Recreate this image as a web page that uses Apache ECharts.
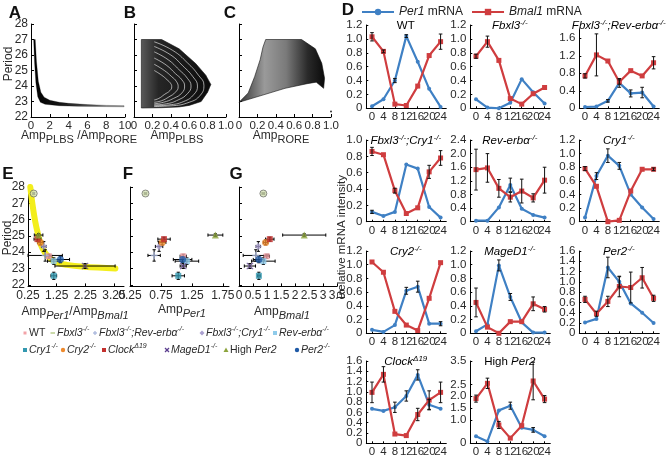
<!DOCTYPE html>
<html><head><meta charset="utf-8">
<script src="https://cdn.jsdelivr.net/npm/echarts@6/dist/echarts.min.js"></script>
<style>html,body{margin:0;padding:0;background:#fff}#c{width:669px;height:461px}</style>
</head><body><div id="c"></div>
<script>
// ================= DATA =================
// Panel A band (upper and lower edges of the simulated cloud)
const aUpper = [[0.45,27.0],[0.58,25.6],[0.78,24.3],[1.05,23.6],[1.4,23.28],[2,23.08],[3,22.95],[4,22.88],[6,22.8],[8,22.75],[9.9,22.73]];
const aLower = [[9.9,22.66],[8,22.67],[5,22.69],[3,22.73],[1.5,22.82],[1.0,22.95],[0.72,23.3],[0.52,24.2],[0.38,25.5],[0.28,27.0]];
// Panel B cloud outline and visible arc gaps
const bOutline = [[0.08,27.0],[0.3,27.0],[0.49,26.4],[0.67,25.45],[0.78,24.7],[0.835,24.1],[0.8,23.6],[0.73,23.0],[0.6,22.75],[0.49,22.65],[0.3,22.6],[0.08,22.58]];
const bArc1 = [[0.22,26.85],[0.42,26.3],[0.58,25.5],[0.7,24.7],[0.76,24.05],[0.72,23.4],[0.6,22.95],[0.4,22.72],[0.22,22.68]];
const bArc2 = [[0.22,26.55],[0.4,26.0],[0.53,25.3],[0.64,24.6],[0.69,24.0],[0.65,23.45],[0.54,23.0],[0.38,22.78],[0.22,22.72]];
const bArc3 = [[0.22,26.2],[0.37,25.7],[0.49,25.05],[0.58,24.5],[0.62,24.0],[0.58,23.5],[0.48,23.1],[0.35,22.85],[0.22,22.78]];
const bArc4 = [[0.22,25.8],[0.35,25.35],[0.45,24.8],[0.52,24.4],[0.55,24.0],[0.52,23.55],[0.43,23.2],[0.32,22.95],[0.22,22.85]];
const bArc5 = [[0.22,25.4],[0.33,25.0],[0.41,24.6],[0.46,24.3],[0.48,23.95],[0.45,23.6],[0.38,23.3],[0.3,23.05],[0.22,22.95]];
const bArc6 = [[0.22,25.0],[0.3,24.7],[0.36,24.4],[0.4,24.15],[0.41,23.95],[0.39,23.7],[0.33,23.45],[0.27,23.2],[0.22,23.1]];
// Panel C cloud outline and lone point
const cOutline = [[0.0,22.95],[0.1,23.55],[0.17,24.6],[0.23,25.7],[0.26,26.5],[0.29,27.0],[0.68,27.0],[0.83,26.4],[0.9,25.46],[0.93,24.5],[0.92,23.85],[0.84,24.25],[0.74,24.15],[0.5,23.85],[0.25,23.4],[0.0,22.95]];
const cDot = [[1.0,22.35]];
// Panel E fitted curve
const fitE = [[0.33,28.0],[0.4,27.0],[0.5,25.9],[0.6,25.1],[0.7,24.45],[0.85,23.95],[1.0,23.65],[1.2,23.4],[1.6,23.22],[2.2,23.1],[3.3,23.0]];

// Panels E-G: genotypes
const genotypes = ['WT','Fbxl3','Fbxl3;Rev-erbα','Fbxl3;Cry1','Rev-erbα','Cry1','Cry2','ClockΔ19','MageD1','High Per2','Per2'];
const period     = [23.75,27.6,23.8,24.35,23.45,22.55,24.6,24.8,23.15,25.05,23.55];
const periodErr  = [0.12,0.05,0.35,0.3,0.2,0.22,0.15,0.12,0.15,0.08,0.2];
const ampRatio   = [0.98,0.45,0.85,0.8,1.15,1.15,0.68,0.58,2.24,0.62,1.38];
const ampRatioErr= [0.1,0.03,0.6,0.08,0.22,0.1,0.1,0.12,1.05,0.15,0.32];
const ampPer1    = [1.11,0.5,0.64,0.72,1.17,1.03,0.77,0.8,1.11,1.63,1.1];
const ampPer1Err = [0.05,0.02,0.1,0.06,0.19,0.1,0.06,0.1,0.05,0.12,0.15];
const ampBmal1   = [0.99,0.87,0.6,0.69,0.87,0.71,0.95,1.1,0.39,2.33,0.71];
const ampBmal1Err= [0.1,0.05,0.45,0.08,0.42,0.05,0.08,0.15,0.2,0.77,0.2];

// Panel D: time courses (hours are the category axis)
const hours = ['0','4','8','12','16','20','24'];
const per1_WT = [0.03,0.13,0.40,1.04,0.67,0.28,0.02];
const per1Err_WT = [0,0,0.03,0.02,0,0,0];
const bmal1_WT = [1.03,0.82,0.06,0.04,0.32,0.76,0.96];
const bmal1Err_WT = [0.06,0.02,0,0,0,0,0.11];
const per1_Fbxl3 = [0.13,0.01,0.0,0.08,0.42,0.23,0.07];
const per1Err_Fbxl3 = [0,0,0,0,0,0,0];
const bmal1_Fbxl3 = [0.75,0.96,0.69,0.14,0.06,0.21,0.30];
const bmal1Err_Fbxl3 = [0.03,0.08,0,0,0,0,0];
const per1_Fbxl3Rev = [0.03,0.04,0.17,0.58,0.34,0.36,0.04];
const per1Err_Fbxl3Rev = [0,0,0.03,0.1,0.08,0.12,0];
const bmal1_Fbxl3Rev = [0.74,1.22,1.08,0.60,0.86,0.74,1.04];
const bmal1Err_Fbxl3Rev = [0.05,0.48,0,0.05,0,0,0.14];
const per1_Fbxl3Cry1 = [0.12,0.07,0.12,0.70,0.65,0.18,0.05];
const per1Err_Fbxl3Cry1 = [0.02,0,0,0,0,0,0];
const bmal1_Fbxl3Cry1 = [0.86,0.82,0.38,0.10,0.17,0.61,0.78];
const bmal1Err_Fbxl3Cry1 = [0.05,0,0.03,0,0,0.08,0.09];
const per1_Rev = [0.03,0.03,0.42,1.08,0.38,0.20,0.12];
const per1Err_Rev = [0,0,0,0.2,0,0,0];
const bmal1_Rev = [1.53,1.58,0.98,0.72,0.90,0.70,1.22];
const bmal1Err_Rev = [0.6,0.42,0.26,0.14,0.35,0.12,0.38];
const per1_Cry1 = [0.06,0.67,0.97,0.82,0.40,0.21,0.04];
const per1Err_Cry1 = [0,0.05,0.1,0.05,0,0,0];
const bmal1_Cry1 = [0.78,0.52,0.0,0.02,0.45,0.77,0.77];
const bmal1Err_Cry1 = [0.03,0,0,0,0,0,0.02];
const per1_Cry2 = [0.05,0.02,0.12,0.62,0.68,0.14,0.14];
const per1Err_Cry2 = [0,0,0,0.05,0.08,0,0.03];
const bmal1_Cry2 = [1.04,0.89,0.32,0.12,0.04,0.51,1.03];
const bmal1Err_Cry2 = [0,0,0,0,0,0,0];
const per1_MageD1 = [0.03,0.13,0.99,0.53,0.16,0.01,0.01];
const per1Err_MageD1 = [0,0,0.08,0.05,0,0,0];
const bmal1_MageD1 = [0.45,0.09,0.0,0.17,0.17,0.43,0.35];
const bmal1Err_MageD1 = [0.21,0,0,0,0,0.1,0.04];
const per1_Per2 = [0.21,0.28,1.28,1.0,0.58,0.40,0.20];
const per1Err_Per2 = [0,0,0.2,0.1,0,0,0];
const bmal1_Per2 = [0.66,0.38,0.62,0.91,0.89,1.08,0.68];
const bmal1Err_Per2 = [0.06,0.05,0.1,0.2,0.3,0.2,0.06];
const per1_Clock = [0.67,0.63,0.70,0.92,1.33,0.75,0.67];
const per1Err_Clock = [0,0,0.1,0.1,0.1,0.1,0];
const bmal1_Clock = [0.99,1.34,0.18,0.15,0.56,0.84,0.99];
const bmal1Err_Clock = [0.2,0.15,0,0,0.12,0.18,0.2];
const per1_HighPer2 = [0.30,0.08,1.40,1.60,0.66,0.57,0.30];
const per1Err_HighPer2 = [0,0,0,0.15,0,0.1,0];
const bmal1_HighPer2 = [1.90,2.55,0.78,0.22,0.75,2.65,1.88];
const bmal1Err_HighPer2 = [0.15,0.22,0.15,0,0,0.8,0.15];

// Tick label sets
const ticksA_x = [0,2,4,6,8,10];
const ticksPeriod = [22,23,24,25,26,27,28];
const ticksBC_x = [0,0.2,0.4,0.6,0.8,1.0];
const ticksE_x = [0.25,1.25,2.25,3.25];
const ticksF_x = [0.25,0.75,1.25,1.75];
const ticksG_x = [0,0.5,1,1.5,2,2.5,3,3.5];
const ticksD12 = [0,0.2,0.4,0.6,0.8,1.0,1.2];
const ticksD10 = [0,0.2,0.4,0.6,0.8,1.0];
const ticksD16a = [0,0.4,0.8,1.2,1.6];
const ticksD24 = [0,0.4,0.8,1.2,1.6,2.0,2.4];
const ticksD16even = [0,0.4,0.8,1.2,1.6];
const ticksD16odd = [0.2,0.6,1.0,1.4];
const ticksD35 = [0,0.5,1.0,1.5,2.0,2.5,3.0,3.5];

// ================= STYLE =================
const FONT = 'Liberation Sans, Arial, Helvetica, sans-serif';
const TXT = '#2a2a2a';
const BLUE = '#3f80c4';
const RED = '#cf3d3f';
const gColors = ['#f2a3a8','#d6e2b6','#a9b6dc','#aaa0d0','#8fcbea','#3398b0','#ee8a2e','#c3302d','#5b3f8f','#8ca43c','#1f5aa6'];
const PLUS = 'path://M4,0H6V4H10V6H6V10H4V6H0V4H4Z';
const CROSS = 'path://M1,0L5,4L9,0L10,1L6,5L10,9L9,10L5,6L1,10L0,9L4,5L0,1Z';
const gSymbols = ['rect','circle',PLUS,'diamond','rect','rect','circle','rect',CROSS,'triangle','circle'];

const grids = [], xAxes = [], yAxes = [], extraY = [], series = [], graphics = [];
function axis(o) {
  return {
    type: 'value', min: o.min, max: o.max,
    axisLine: {show: o.line !== false, onZero: false, lineStyle: {color: '#000', width: 1}},
    axisTick: {show: true, inside: true, length: o.tl || 3, customValues: o.ticks, lineStyle: {color: '#000', width: 1}},
    axisLabel: {show: o.labels !== false, customValues: o.ticks, formatter: o.fmt, color: TXT,
      fontSize: o.fs || 11, fontFamily: FONT, margin: o.margin || 3,
      showMinLabel: true, showMaxLabel: true, hideOverlap: false},
    splitLine: {show: false}
  };
}
function addGrid(g, xa, ya) {
  const idx = grids.length;
  grids.push(Object.assign({containLabel: false}, g));
  xAxes.push(Object.assign({gridIndex: idx}, xa.category ? xa.category : axis(xa)));
  yAxes.push(Object.assign({gridIndex: idx}, axis(ya)));
  return idx;
}
function polygonSeries(idx, pts, fill, stroke) {
  return {type: 'custom', xAxisIndex: idx, yAxisIndex: idx, silent: true, z: 2,
    data: [pts[0]],
    renderItem: (p, api) => ({type: 'polygon', shape: {points: pts.map(q => api.coord(q))},
      style: {fill: fill, stroke: stroke || '#111', lineWidth: 0.6}})};
}
const fmt1 = v => v === 0 ? '0' : v.toFixed(1);
const fmt2 = v => v.toFixed(2);

// ---------- Panel A ----------
const gA = addGrid({left: 31, top: 24, width: 94, height: 93},
  {min: 0, max: 10, ticks: ticksA_x, fs: 11.5},
  {min: 22, max: 28, ticks: ticksPeriod, fs: 12});
series.push(polygonSeries(gA, aUpper.concat(aLower),
  new echarts.graphic.LinearGradient(0, 0, 1, 0, [{offset: 0, color: '#000'}, {offset: 0.3, color: '#141414'}, {offset: 1, color: '#999'}]), 'rgba(0,0,0,0.45)'));

// ---------- Panel B ----------
const gB = addGrid({left: 134, top: 24, width: 92, height: 93},
  {min: 0, max: 1, ticks: ticksBC_x, fmt: fmt1, fs: 11.5},
  {min: 22, max: 28, ticks: ticksPeriod, labels: false});
series.push(polygonSeries(gB, bOutline,
  new echarts.graphic.LinearGradient(0, 0, 1, 0, [{offset: 0, color: '#5a5a5a'}, {offset: 0.25, color: '#262626'}, {offset: 1, color: '#0a0a0a'}])));
[bArc1, bArc2, bArc3, bArc4, bArc5, bArc6].forEach(arc => series.push({
  type: 'line', xAxisIndex: gB, yAxisIndex: gB, data: arc, smooth: 0.5, symbol: 'none', silent: true, z: 3,
  lineStyle: {color: 'rgba(255,255,255,0.6)', width: 1}}));

// ---------- Panel C ----------
const gC = addGrid({left: 239, top: 24, width: 92, height: 93},
  {min: 0, max: 1, ticks: ticksBC_x, fmt: fmt1, fs: 11.5},
  {min: 22, max: 28, ticks: ticksPeriod, labels: false});
series.push(polygonSeries(gC, cOutline,
  new echarts.graphic.LinearGradient(0, 0, 1, 0, [{offset: 0, color: '#333'}, {offset: 0.3, color: '#9a9a9a'}, {offset: 0.55, color: '#7a7a7a'}, {offset: 0.8, color: '#2a2a2a'}, {offset: 1, color: '#0a0a0a'}])));
series.push({type: 'scatter', xAxisIndex: gC, yAxisIndex: gC, data: cDot, symbolSize: 2, itemStyle: {color: '#000'}, silent: true});

// ---------- Panels E, F, G ----------
function crossSeries(idx, xs, xe) {
  return {type: 'custom', xAxisIndex: idx, yAxisIndex: idx, silent: true, z: 4,
    data: genotypes.map((g, i) => [xs[i], period[i], xe[i], periodErr[i]]),
    renderItem: (p, api) => {
      const x = api.value(0), y = api.value(1), ex = api.value(2), ey = api.value(3);
      const l = api.coord([x - ex, y]), r = api.coord([x + ex, y]), t = api.coord([x, y + ey]), b = api.coord([x, y - ey]);
      const c = 1.6, st = {stroke: '#000', lineWidth: 1};
      return {type: 'group', children: [
        {type: 'line', shape: {x1: l[0], y1: l[1], x2: r[0], y2: r[1]}, style: st},
        {type: 'line', shape: {x1: l[0], y1: l[1] - c, x2: l[0], y2: l[1] + c}, style: st},
        {type: 'line', shape: {x1: r[0], y1: r[1] - c, x2: r[0], y2: r[1] + c}, style: st},
        {type: 'line', shape: {x1: t[0], y1: t[1], x2: b[0], y2: b[1]}, style: st},
        {type: 'line', shape: {x1: t[0] - c, y1: t[1], x2: t[0] + c, y2: t[1]}, style: st},
        {type: 'line', shape: {x1: b[0] - c, y1: b[1], x2: b[0] + c, y2: b[1]}, style: st}
      ]};
    }};
}
function pointSeries(idx, xs) {
  return {type: 'scatter', xAxisIndex: idx, yAxisIndex: idx, silent: true, z: 5,
    data: genotypes.map((g, i) => ({value: [xs[i], period[i]], symbol: gSymbols[i],
      symbolSize: gSymbols[i] === 'rect' ? 6 : 7,
      itemStyle: {color: gColors[i], borderColor: i === 1 ? '#555' : gColors[i], borderWidth: i === 1 ? 0.8 : 0}}))};
}
const gE = addGrid({left: 28, top: 187, width: 96, height: 99.4},
  {min: 0.25, max: 3.6, ticks: ticksE_x, fmt: fmt2, fs: 12},
  {min: 21.9, max: 28, ticks: ticksPeriod, fs: 12});
series.push({type: 'line', xAxisIndex: gE, yAxisIndex: gE, data: fitE, smooth: 0.4, symbol: 'none', silent: true, z: 3,
  lineStyle: {color: '#f3ee1c', width: 6, cap: 'round'}});
series.push(crossSeries(gE, ampRatio, ampRatioErr));
series.push(pointSeries(gE, ampRatio));

const gF = addGrid({left: 130, top: 187, width: 99, height: 99.4},
  {min: 0.25, max: 1.85, ticks: ticksF_x, fmt: fmt2, fs: 12},
  {min: 21.9, max: 28, ticks: ticksPeriod, labels: false});
series.push(crossSeries(gF, ampPer1, ampPer1Err));
series.push(pointSeries(gF, ampPer1));

const gG = addGrid({left: 239, top: 187, width: 98, height: 99.4},
  {min: 0, max: 3.5, ticks: ticksG_x, fs: 12},
  {min: 21.9, max: 28, ticks: ticksPeriod, labels: false});
series.push(crossSeries(gG, ampBmal1, ampBmal1Err));
series.push(pointSeries(gG, ampBmal1));

// ---------- Panel D ----------
const colLeft = [366.3, 470.3, 579.3];
const rowBottom = [108.3, 221.7, 333.3, 443.3];
const rowTop = [25, 140, 251, 361];
const dPanels = [
  {t: '{n|WT}', p: per1_WT, pe: per1Err_WT, b: bmal1_WT, be: bmal1Err_WT, max: 1.2, ticks: ticksD12, r: 0, c: 0},
  {t: '{i|Fbxl3}{s|-/-}', p: per1_Fbxl3, pe: per1Err_Fbxl3, b: bmal1_Fbxl3, be: bmal1Err_Fbxl3, max: 1.2, ticks: ticksD12, r: 0, c: 1},
  {t: '{i|Fbxl3}{s|-/-}{i|;Rev-erbα}{s|-/-}', p: per1_Fbxl3Rev, pe: per1Err_Fbxl3Rev, b: bmal1_Fbxl3Rev, be: bmal1Err_Fbxl3Rev, max: 1.8, ticks: ticksD16a, r: 0, c: 2, top: 29.5},
  {t: '{i|Fbxl3}{s|-/-}{i|;Cry1}{s|-/-}', p: per1_Fbxl3Cry1, pe: per1Err_Fbxl3Cry1, b: bmal1_Fbxl3Cry1, be: bmal1Err_Fbxl3Cry1, max: 1.0, ticks: ticksD10, r: 1, c: 0},
  {t: '{i|Rev-erbα}{s|-/-}', p: per1_Rev, pe: per1Err_Rev, b: bmal1_Rev, be: bmal1Err_Rev, max: 2.4, ticks: ticksD24, r: 1, c: 1},
  {t: '{i|Cry1}{s|-/-}', p: per1_Cry1, pe: per1Err_Cry1, b: bmal1_Cry1, be: bmal1Err_Cry1, max: 1.2, ticks: ticksD12, r: 1, c: 2},
  {t: '{i|Cry2}{s|-/-}', p: per1_Cry2, pe: per1Err_Cry2, b: bmal1_Cry2, be: bmal1Err_Cry2, max: 1.2, ticks: ticksD12, r: 2, c: 0},
  {t: '{i|MageD1}{s|-/-}', p: per1_MageD1, pe: per1Err_MageD1, b: bmal1_MageD1, be: bmal1Err_MageD1, max: 1.2, ticks: ticksD12, r: 2, c: 1},
  {t: '{i|Per2}{s|-/-}', p: per1_Per2, pe: per1Err_Per2, b: bmal1_Per2, be: bmal1Err_Per2, max: 1.6, ticks: ticksD16even, ticks2: ticksD16odd, r: 2, c: 2},
  {t: '{i|Clock}{s|Δ19}', p: per1_Clock, pe: per1Err_Clock, b: bmal1_Clock, be: bmal1Err_Clock, max: 1.6, ticks: ticksD16even, ticks2: ticksD16odd, r: 3, c: 0},
  {t: '{n|High }{i|Per2}', p: per1_HighPer2, pe: per1Err_HighPer2, b: bmal1_HighPer2, be: bmal1Err_HighPer2, max: 3.5, ticks: ticksD35, r: 3, c: 1}
];
const richT = {
  n: {fontSize: 11.5, fontFamily: FONT, color: TXT, lineHeight: 15},
  i: {fontSize: 11.5, fontFamily: FONT, fontStyle: 'italic', color: TXT, lineHeight: 15},
  s: {fontSize: 8, fontFamily: FONT, fontStyle: 'italic', color: TXT, lineHeight: 9, verticalAlign: 'top'}
};
function errSeries(idx, vals, errs) {
  return {type: 'custom', xAxisIndex: idx, yAxisIndex: idx, silent: true, z: 6,
    data: hours.map((h, i) => [i, vals[i], errs[i]]).filter(d => d[2] > 0),
    renderItem: (p, api) => {
      const x = api.value(0), y = api.value(1), e = api.value(2);
      const t = api.coord([x, y + e]), b = api.coord([x, y - e]);
      const c = 1.8, st = {stroke: '#111', lineWidth: 1};
      return {type: 'group', children: [
        {type: 'line', shape: {x1: t[0], y1: t[1], x2: b[0], y2: b[1]}, style: st},
        {type: 'line', shape: {x1: t[0] - c, y1: t[1], x2: t[0] + c, y2: t[1]}, style: st},
        {type: 'line', shape: {x1: b[0] - c, y1: b[1], x2: b[0] + c, y2: b[1]}, style: st}
      ]};
    }};
}
const hourAxis = {
  type: 'category', data: hours, boundaryGap: true,
  axisLine: {show: true, lineStyle: {color: '#000', width: 1}},
  axisTick: {show: true, inside: true, length: 2, alignWithLabel: true, interval: 0, lineStyle: {color: '#000'}},
  axisLabel: {interval: 0, color: TXT, fontSize: 11.5, fontFamily: FONT, margin: 3},
  splitLine: {show: false}
};
dPanels.forEach(d => {
  const left = colLeft[d.c], bottom = rowBottom[d.r];
  const top = d.top !== undefined ? d.top : rowTop[d.r];
  const width = 80;
  const idx = addGrid({left: left, top: top, width: width, height: bottom - top},
    {category: hourAxis},
    {min: 0, max: d.max, ticks: d.ticks, fmt: fmt1, fs: 11.5, margin: 4, tl: 2});
  if (d.ticks2) {
    // second label set on the same grid (in-between ticks), so that no label is dropped
    extraY.push(Object.assign({gridIndex: idx, position: 'left'},
      axis({min: 0, max: d.max, ticks: d.ticks2, fmt: fmt1, fs: 11.5, margin: 4, tl: 2, line: false})));
  }
  series.push({type: 'line', name: 'Per1 mRNA', xAxisIndex: idx, yAxisIndex: idx, data: d.p,
    symbol: 'circle', symbolSize: 4, lineStyle: {color: BLUE, width: 2.2}, itemStyle: {color: BLUE}, z: 4, silent: true});
  series.push({type: 'line', name: 'Bmal1 mRNA', xAxisIndex: idx, yAxisIndex: idx, data: d.b,
    symbol: 'rect', symbolSize: 5, lineStyle: {color: RED, width: 2.2}, itemStyle: {color: RED}, z: 5, silent: true});
  series.push(errSeries(idx, d.p, d.pe));
  series.push(errSeries(idx, d.b, d.be));
  graphics.push({type: 'text', x: left + width / 2 - 0.5, y: rowTop[d.r] + 1, silent: true, z: 10,
    style: {text: d.t, rich: richT, align: 'center', verticalAlign: 'middle'}});
});

// ---------- Texts ----------
function T(x, y, text, o) {
  o = o || {};
  return {type: 'text', x: x, y: y, rotation: o.rot || 0, silent: true, z: 10,
    style: {text: text, rich: o.rich, align: o.align || 'center', verticalAlign: 'middle',
      fontFamily: FONT, fontSize: o.fs || 12, fontWeight: o.fw || 'normal', fontStyle: o.fst || 'normal', fill: o.color || TXT}};
}
const letterStyle = {fs: 17, fw: 'bold', color: '#111'};
graphics.push(T(15, 13, 'A', letterStyle), T(130, 13, 'B', letterStyle), T(230, 13, 'C', letterStyle), T(348, 10, 'D', letterStyle),
  T(8, 174, 'E', letterStyle), T(128, 174, 'F', letterStyle), T(236, 174, 'G', letterStyle));
graphics.push(T(9, 64, 'Period', {rot: Math.PI / 2, fs: 12}), T(8, 238, 'Period', {rot: Math.PI / 2, fs: 12}));
graphics.push(T(342, 237, 'Relative mRNA intensity', {rot: Math.PI / 2, fs: 11.5}));
const richAmp = {
  a: {fontSize: 12, fontFamily: FONT, color: TXT, lineHeight: 18},
  b: {fontSize: 11, fontFamily: FONT, color: TXT, lineHeight: 11, verticalAlign: 'bottom'},
  bi: {fontSize: 11, fontFamily: FONT, fontStyle: 'italic', color: TXT, lineHeight: 11, verticalAlign: 'bottom'}
};
graphics.push(T(79, 136, '{a|Amp}{b|PLBS}{a| /Amp}{b|RORE}', {rich: richAmp}));
graphics.push(T(177, 136, '{a|Amp}{b|PLBS}', {rich: richAmp}));
graphics.push(T(281, 136, '{a|Amp}{b|RORE}', {rich: richAmp}));
graphics.push(T(75, 312, '{a|Amp}{bi|Per1}{a|/Amp}{bi|Bmal1}', {rich: richAmp}));
graphics.push(T(182, 310, '{a|Amp}{bi|Per1}', {rich: richAmp}));
graphics.push(T(282, 312, '{a|Amp}{bi|Bmal1}', {rich: richAmp}));

// ---------- Genotype legend (bottom-left) ----------
const richL = {
  n: {fontSize: 10.5, fontFamily: FONT, color: TXT, lineHeight: 14},
  i: {fontSize: 10.5, fontFamily: FONT, fontStyle: 'italic', color: TXT, lineHeight: 14},
  s: {fontSize: 7, fontFamily: FONT, fontStyle: 'italic', color: TXT, lineHeight: 8, verticalAlign: 'top'}
};
const legendLabels = ['{n|WT}', '{i|Fbxl3}{s|-/-}', '{i|Fbxl3}{s|-/-}{i|;Rev-erbα}{s|-/-}', '{i|Fbxl3}{s|-/-}{i|;Cry1}{s|-/-}', '{i|Rev-erbα}{s|-/-}',
  '{i|Cry1}{s|-/-}', '{i|Cry2}{s|-/-}', '{i|Clock}{s|Δ19}', '{i|MageD1}{s|-/-}', '{n|High }{i|Per2}', '{i|Per2}{s|-/-}'];
const legendPos = [[25, 333], [53, 333], [95, 333], [202, 333], [275, 333], [25, 350], [63, 350], [104, 350], [167, 350], [226, 350], [297, 350]];
function marker(i, x, y) {
  const c = gColors[i];
  switch (i) {
    case 0: return {type: 'rect', shape: {x: x - 1.5, y: y - 1.5, width: 3, height: 3}, style: {fill: c}};
    case 1: return {type: 'line', shape: {x1: x - 2.5, y1: y, x2: x + 2, y2: y}, style: {stroke: '#b9cc8c', lineWidth: 1.5}};
    case 2: return {type: 'group', children: [
      {type: 'line', shape: {x1: x - 2, y1: y, x2: x + 2, y2: y}, style: {stroke: c, lineWidth: 1.3}},
      {type: 'line', shape: {x1: x, y1: y - 2, x2: x, y2: y + 2}, style: {stroke: c, lineWidth: 1.3}}]};
    case 3: return {type: 'polygon', shape: {points: [[x, y - 2.5], [x + 2.5, y], [x, y + 2.5], [x - 2.5, y]]}, style: {fill: c}};
    case 8: return {type: 'group', children: [
      {type: 'line', shape: {x1: x - 2, y1: y - 2, x2: x + 2, y2: y + 2}, style: {stroke: c, lineWidth: 1.3}},
      {type: 'line', shape: {x1: x - 2, y1: y + 2, x2: x + 2, y2: y - 2}, style: {stroke: c, lineWidth: 1.3}}]};
    case 9: return {type: 'polygon', shape: {points: [[x, y - 2.5], [x + 2.5, y + 2], [x - 2.5, y + 2]]}, style: {fill: c}};
    case 6: case 10: return {type: 'circle', shape: {cx: x, cy: y, r: 2.2}, style: {fill: c}};
    default: return {type: 'rect', shape: {x: x - 2, y: y - 2, width: 4, height: 4}, style: {fill: c}};
  }
}
legendLabels.forEach((lab, i) => {
  const [x, y] = legendPos[i];
  const m = marker(i, x, y); m.silent = true; m.z = 10;
  graphics.push(m);
  graphics.push(T(x + 4, y, lab, {rich: richL, align: 'left', fs: 10.5}));
});

// ================= CHART =================
const chart = echarts.init(document.getElementById('c'), null, {renderer: 'canvas', width: 669, height: 461});
chart.setOption({
  animation: false,
  backgroundColor: '#fff',
  grid: grids, xAxis: xAxes, yAxis: yAxes.concat(extraY), series: series,
  legend: {top: 1, left: 356, itemWidth: 32, itemHeight: 8, itemGap: 8, selectedMode: false,
    data: ['Per1 mRNA', 'Bmal1 mRNA'],
    formatter: n => n === 'Per1 mRNA' ? '{i|Per1} mRNA' : '{i|Bmal1} mRNA',
    textStyle: {fontSize: 12, fontFamily: FONT, color: '#222', rich: {i: {fontSize: 12, fontFamily: FONT, fontStyle: 'italic', color: '#222'}}}},
  graphic: {elements: graphics}
});
</script></body></html>
